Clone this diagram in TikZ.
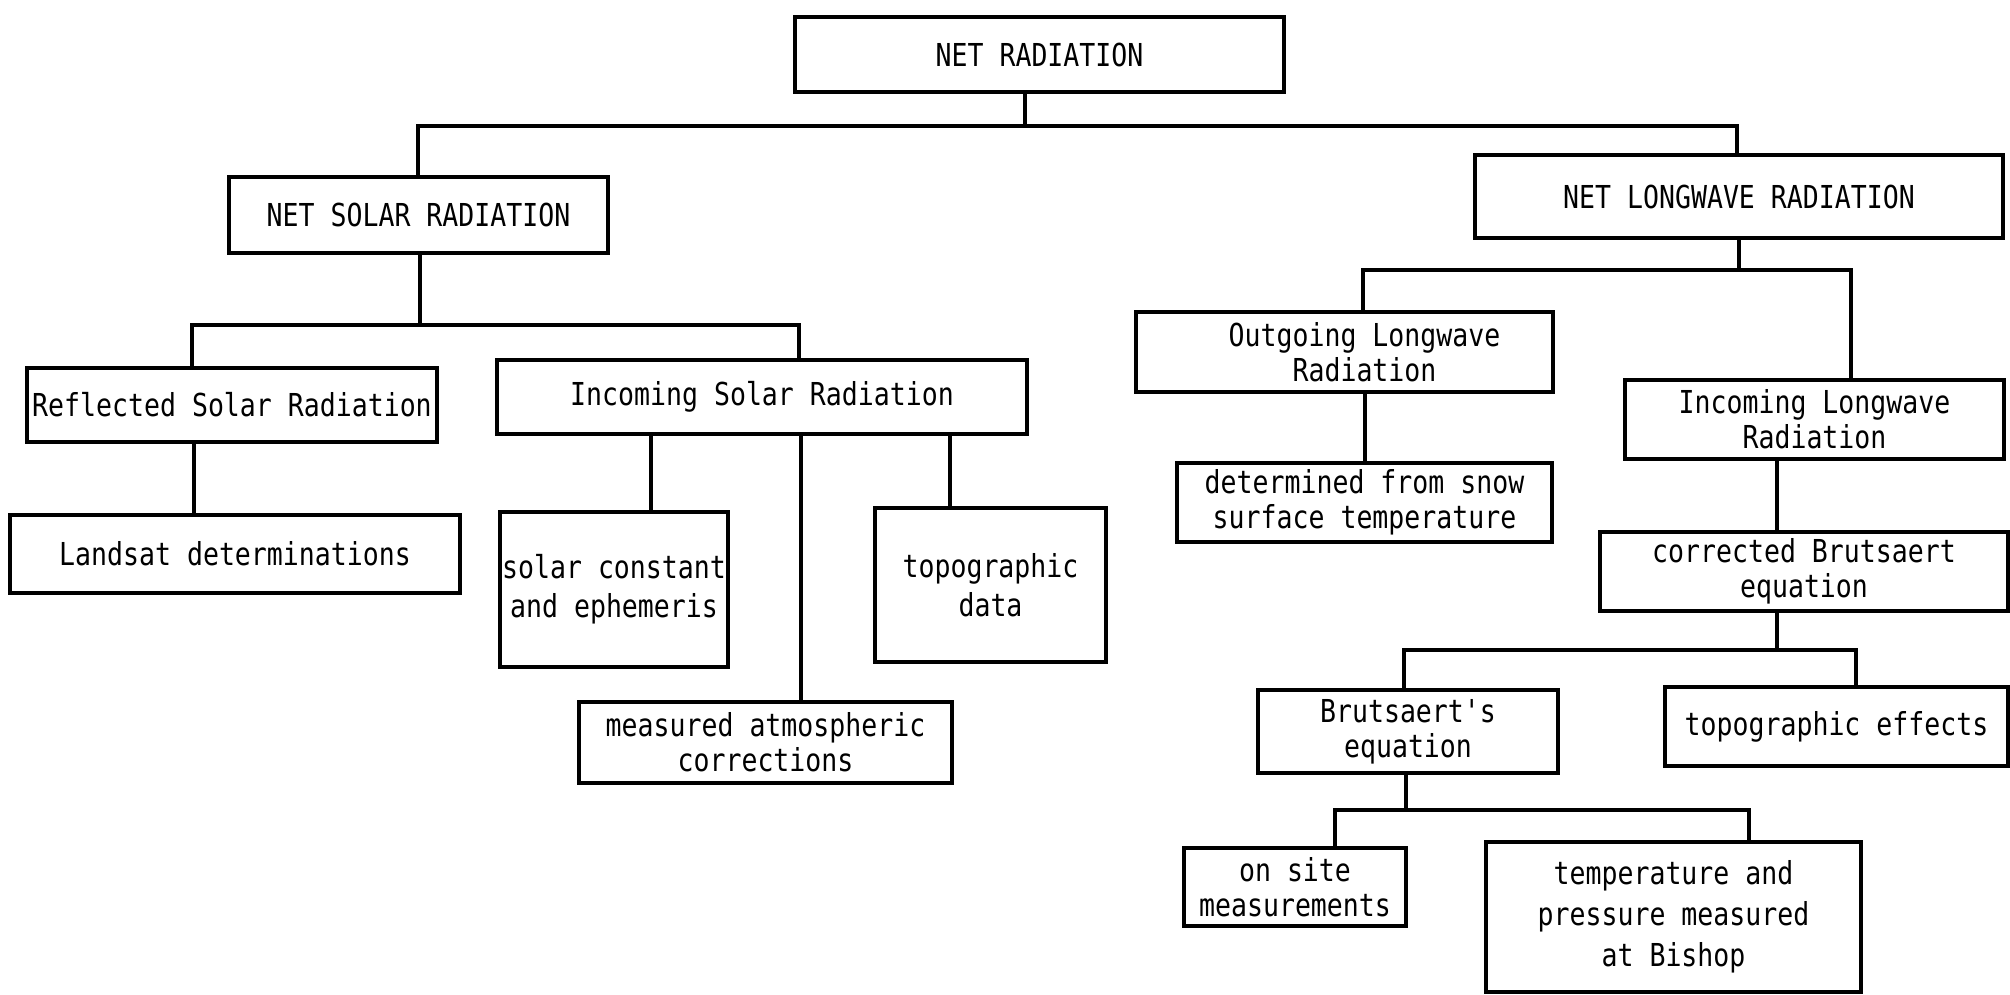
\documentclass[tikz,border=0pt]{standalone}
\usepackage{fontspec}
\setmonofont[FakeStretch=0.84]{DejaVu Sans Mono}
\begin{document}
\begin{tikzpicture}[x=0.5pt,y=-0.5pt,
  box/.style={draw, line width=1.8pt, rectangle, inner sep=0pt, align=center,
    font=\ttfamily\fontsize{15.8}{17.5}\selectfont},
  conn/.style={line width=1.8pt}]
\useasboundingbox (0,0) rectangle (2010,995);
% boxes
\node[box, minimum width=489*0.5pt, minimum height=75*0.5pt] (netrad) at (1039.5,54.5) {NET RADIATION};
\node[box, minimum width=379*0.5pt, minimum height=76*0.5pt] (nsr) at (418.5,215) {NET SOLAR RADIATION};
\node[box, minimum width=528*0.5pt, minimum height=83*0.5pt] (nlr) at (1739,196.5) {NET LONGWAVE RADIATION};
\node[box, minimum width=410*0.5pt, minimum height=74*0.5pt] (refl) at (232,405) {Reflected Solar Radiation};
\node[box, minimum width=530*0.5pt, minimum height=74*0.5pt] (isr) at (762,397) {Incoming Solar Radiation};
\node[box, minimum width=450*0.5pt, minimum height=78*0.5pt] (landsat) at (235,554) {Landsat determinations};
\node[box, minimum width=228*0.5pt, minimum height=155*0.5pt] (solc) at (614,589.5) {solar constant\\[2pt]and ephemeris};
\node[box, minimum width=373*0.5pt, minimum height=81*0.5pt] (atm) at (765.5,742.5) {measured atmospheric\\corrections};
\node[box, minimum width=231*0.5pt, minimum height=154*0.5pt] (topo) at (990.5,585) {topographic\\[2pt]data};
\node[box, minimum width=417*0.5pt, minimum height=80*0.5pt] (olr) at (1344.5,352) {\hspace*{20pt}Outgoing Longwave\\\hspace*{20pt}Radiation};
\node[box, minimum width=379*0.5pt, minimum height=79*0.5pt] (ilr) at (1814.5,419.5) {Incoming Longwave\\Radiation};
\node[box, minimum width=375*0.5pt, minimum height=79*0.5pt] (det) at (1364.5,502.5) {determined from snow\\surface temperature};
\node[box, minimum width=408*0.5pt, minimum height=79*0.5pt] (cb) at (1804,571.5) {corrected Brutsaert\\equation};
\node[box, minimum width=300*0.5pt, minimum height=83*0.5pt] (bse) at (1408,731.5) {Brutsaert's\\equation};
\node[box, minimum width=343*0.5pt, minimum height=79*0.5pt] (tope) at (1836.5,726.5) {topographic effects};
\node[box, minimum width=222*0.5pt, minimum height=78*0.5pt] (onsite) at (1295,887) {on site\\measurements};
\node[box, minimum width=375*0.5pt, minimum height=150*0.5pt] (temp) at (1673.5,917) {temperature and\\[3pt]pressure measured\\[3pt]at Bishop};
% junction coordinates
\coordinate (j1) at (1025,126);
\coordinate (j1l) at (418,126);
\coordinate (j1r) at (1737,126);
\coordinate (j2) at (420,325);
\coordinate (j2l) at (192,325);
\coordinate (j2r) at (799,325);
\coordinate (j3) at (1739,270);
\coordinate (j3l) at (1363,270);
\coordinate (j3r) at (1851,270);
\coordinate (j4) at (1777,650);
\coordinate (j4l) at (1404,650);
\coordinate (j4r) at (1856,650);
\coordinate (j5) at (1406,810);
\coordinate (j5l) at (1335,810);
\coordinate (j5r) at (1749,810);
% connectors
\draw[conn] (j1 |- netrad.south) -- (j1);
\draw[conn] (j1l |- nsr.north) -- (j1l) -- (j1r) -- (j1r |- nlr.north);
\draw[conn] (j2 |- nsr.south) -- (j2);
\draw[conn] (j2l |- refl.north) -- (j2l) -- (j2r) -- (j2r |- isr.north);
\draw[conn] (194,0 |- refl.south) -- (194,0 |- landsat.north);
\draw[conn] (651,0 |- isr.south) -- (651,0 |- solc.north);
\draw[conn] (801,0 |- isr.south) -- (801,0 |- atm.north);
\draw[conn] (950,0 |- isr.south) -- (950,0 |- topo.north);
\draw[conn] (j3 |- nlr.south) -- (j3);
\draw[conn] (j3l |- olr.north) -- (j3l) -- (j3r) -- (j3r |- ilr.north);
\draw[conn] (1365,0 |- olr.south) -- (1365,0 |- det.north);
\draw[conn] (j4 |- ilr.south) -- (j4 |- cb.north);
\draw[conn] (j4 |- cb.south) -- (j4);
\draw[conn] (j4l |- bse.north) -- (j4l) -- (j4r) -- (j4r |- tope.north);
\draw[conn] (j5 |- bse.south) -- (j5);
\draw[conn] (j5l |- onsite.north) -- (j5l) -- (j5r) -- (j5r |- temp.north);
\end{tikzpicture}
\end{document}
